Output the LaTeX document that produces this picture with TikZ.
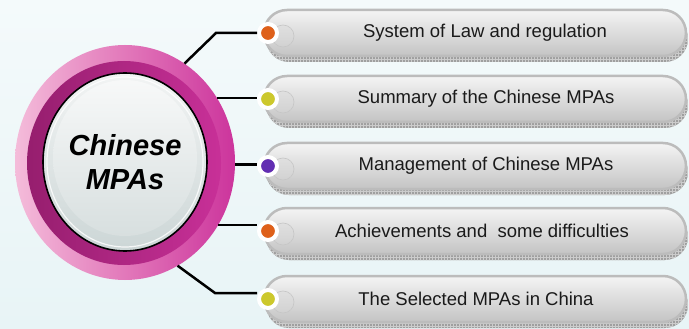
\documentclass[tikz,border=0pt]{standalone}
\usepackage{fontspec}
\setmainfont{Liberation Sans}
\usetikzlibrary{shapes.geometric,patterns,shadows}
\definecolor{bgtop}{RGB}{244,250,251}
\definecolor{bgbot}{RGB}{232,244,246}
\definecolor{rimgray}{RGB}{188,188,188}
\definecolor{boxtop}{RGB}{244,244,244}
\definecolor{boxbot}{RGB}{196,196,196}
\definecolor{ringlight}{RGB}{244,188,218}
\definecolor{ringmid}{RGB}{226,120,186}
\definecolor{ringdark}{RGB}{204,52,156}
\definecolor{darkringL}{RGB}{150,30,110}
\definecolor{darkringR}{RGB}{200,48,152}
\definecolor{disctop}{RGB}{242,244,244}
\definecolor{discbot}{RGB}{204,214,214}
\definecolor{dotorange}{RGB}{222,96,26}
\definecolor{dotyellow}{RGB}{204,200,44}
\definecolor{dotpurple}{RGB}{98,46,178}
\definecolor{txt}{RGB}{26,26,26}
\begin{document}
\begin{tikzpicture}[x=1pt,y=-1pt,
  conn/.style={line width=2.5pt, black},
  pill/.style={rectangle, rounded corners=23pt, minimum width=422pt, minimum height=46pt,
    inner sep=0pt, draw=rimgray, line width=2.5pt, top color=boxtop, bottom color=boxbot,
    general shadow={fill=gray!75, shadow xshift=2pt, shadow yshift=-6pt},
    general shadow={pattern=grid, pattern color=gray!40, shadow xshift=2pt, shadow yshift=-6pt}},
  pilltext/.style={font=\fontsize{18.5}{21}\selectfont, text=txt, inner sep=0pt},
  dotnode/.style={circle, minimum size=18pt, inner sep=0pt, draw=white, line width=4pt},
  ghost/.style={draw=gray!45, line width=0.6pt, fill=gray!30, fill opacity=0.35}
]
\shade[top color=bgtop, bottom color=bgbot] (0,0) rectangle (689,329);
\useasboundingbox (0,0) rectangle (689,329);

% central badge
\shade[left color=ringlight, right color=ringdark, middle color=ringmid] (125,162.5) ellipse [x radius=110pt, y radius=117.5pt];
\shade[left color=darkringL, right color=darkringR] (124,163) ellipse [x radius=97pt, y radius=102pt];
\shade[top color=disctop, bottom color=discbot, draw=black, line width=1.6pt] (125,162) ellipse [x radius=82pt, y radius=89pt];
\shade[top color=disctop!60!white, bottom color=discbot!70!disctop] (125,158) ellipse [x radius=72pt, y radius=78pt];
\draw[white, line width=1.2pt, opacity=0.8] (125,162) ellipse [x radius=78pt, y radius=85pt];
\node[ellipse, minimum width=220pt, minimum height=235pt, inner sep=0pt, outer sep=0pt,
  align=center, font=\bfseries\itshape\fontsize{29}{34}\selectfont] (hub) at (125,162.5) {Chinese\\MPAs};

% boxes
\node[pill] (b1) at (475,33) {};
\node[pill] (b2) at (475,99) {};
\node[pill] (b3) at (475,166) {};
\node[pill] (b4) at (475,231) {};
\node[pill] (b5) at (475,299) {};

\foreach \yy in {36,102,169,234,302} \fill[ghost] (283,\yy) circle [radius=11pt];

\node[pilltext] (t1) at (485,33) {System of Law and regulation};
\node[pilltext] (t2) at (486,99) {Summary of the Chinese MPAs};
\node[pilltext] (t3) at (486,166) {Management of Chinese MPAs};
\node[pilltext] (t4) at (482,231) {Achievements and\ \ some difficulties};
\node[pilltext] (t5) at (476,299) {The Selected MPAs in China};

% dots
\node[dotnode, fill=dotorange] (d1) at (268,33) {};
\node[dotnode, fill=dotyellow] (d2) at (268,99) {};
\node[dotnode, fill=dotpurple] (d3) at (268,166) {};
\node[dotnode, fill=dotorange] (d4) at (268,231) {};
\node[dotnode, fill=dotyellow] (d5) at (268,299) {};

% connectors
\coordinate (e1) at (216,33);
\coordinate (e5) at (215,293);
\draw[conn] (hub.59) -- (e1) -- (d1);
\draw[conn] (hub.35.6) -- (hub.35.6 -| d2.west);
\draw[conn] (hub.-1.8) -- (hub.-1.8 -| d3.west);
\draw[conn] (hub.-34.6) -- (hub.-34.6 -| d4.west);
\draw[conn] (hub.-63.1) -- (e5) -- (e5 -| d5.west);
\end{tikzpicture}
\end{document}
